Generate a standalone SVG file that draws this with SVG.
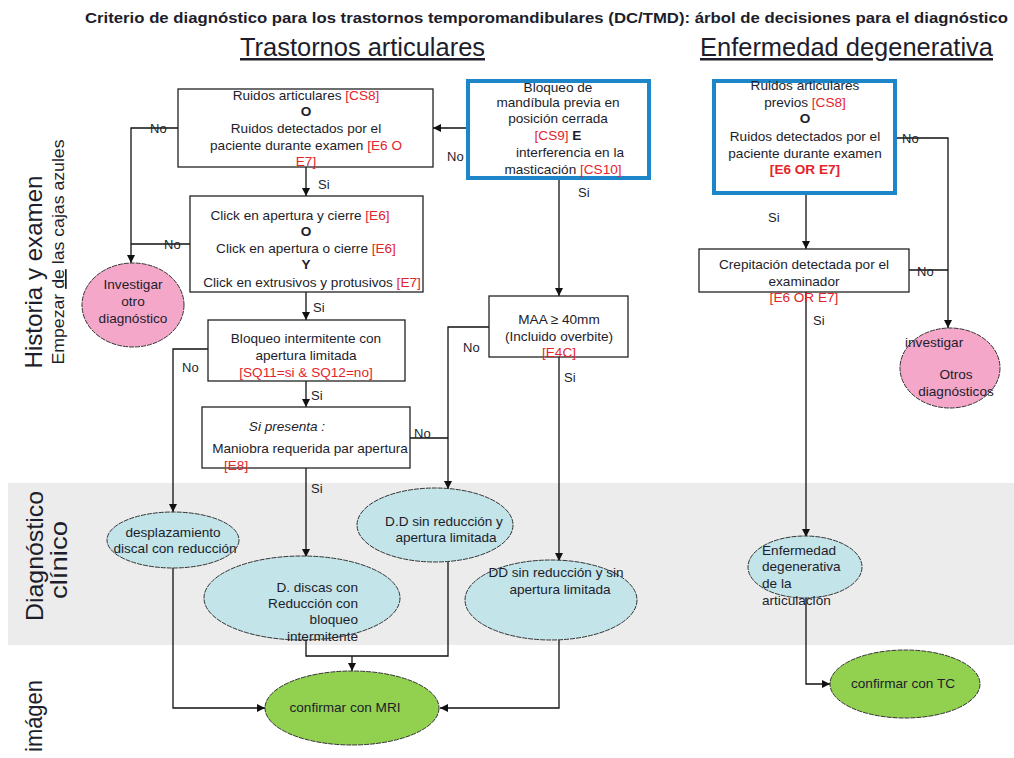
<svg xmlns="http://www.w3.org/2000/svg" width="1014" height="758" viewBox="0 0 1014 758">
<defs>
<marker id="ah" viewBox="0 0 10 10" refX="10" refY="5" markerWidth="8" markerHeight="8" markerUnits="userSpaceOnUse" orient="auto"><path d="M0,0 L10,5 L0,10 z" fill="#111"/></marker>
<style>
text{font-family:"Liberation Sans",Arial,sans-serif;fill:#1d1d2b;font-size:13.6px}
.c{text-anchor:middle}
.r{fill:#e3242b}
.b{font-weight:bold}
.box{fill:#fff;stroke:#222;stroke-width:1.3}
.blue{fill:#fff;stroke:#1c86c8;stroke-width:4}
.lb{fill:#c3e4e9;stroke:#333;stroke-width:1;stroke-dasharray:5 1}
.pk{fill:#f4a7c9;stroke:#333;stroke-width:1;stroke-dasharray:5 1}
.gr{fill:#92d050;stroke:#333;stroke-width:1;stroke-dasharray:5 1}
.ln{fill:none;stroke:#111;stroke-width:1.3}
.lab{font-size:13px}
.big{font-size:24px}
.hd{font-size:25px;text-decoration:underline}
</style>
</defs>
<rect width="1014" height="758" fill="#fff"/>
<rect x="8" y="483" width="1006" height="162" fill="#ececec"/>

<g id="titles">
<text x="85" y="23" class="b" style="font-size:15px;font-family:'Liberation Sans Narrow','Liberation Sans',sans-serif" textLength="923" lengthAdjust="spacingAndGlyphs">Criterio de diagnóstico para los trastornos temporomandibulares (DC/TMD): árbol de decisiones para el diagnóstico</text>
<text x="240" y="56" class="hd" textLength="245" lengthAdjust="spacingAndGlyphs">Trastornos articulares</text>
<text x="700" y="56" class="hd" textLength="293" lengthAdjust="spacingAndGlyphs">Enfermedad degenerativa</text>
</g>

<g id="side-labels">
<text transform="translate(42,272) rotate(-90)" class="c big" textLength="193" lengthAdjust="spacingAndGlyphs">Historia y examen</text>
<text transform="translate(64,252) rotate(-90)" class="c" style="font-size:17px" textLength="225" lengthAdjust="spacingAndGlyphs">Empezar <tspan text-decoration="underline">de</tspan> las cajas azules</text>
<text transform="translate(43,556) rotate(-90)" class="c big" textLength="130" lengthAdjust="spacingAndGlyphs">Diagnóstico</text>
<text transform="translate(67,560) rotate(-90)" class="c big" textLength="78" lengthAdjust="spacingAndGlyphs">clínico</text>
<text transform="translate(42,716) rotate(-90)" class="c big" textLength="72" lengthAdjust="spacingAndGlyphs">imágen</text>
</g>

<g id="connectors">
<path class="ln" d="M468,128 H433" marker-end="url(#ah)"/>
<path class="ln" d="M178,128 H131 V263" marker-end="url(#ah)"/>
<path class="ln" d="M190,244 H131"/>
<path class="ln" d="M306,167 V196" marker-end="url(#ah)"/>
<path class="ln" d="M306,292 V320" marker-end="url(#ah)"/>
<path class="ln" d="M208,349 H173 V512" marker-end="url(#ah)"/>
<path class="ln" d="M306,381 V407" marker-end="url(#ah)"/>
<path class="ln" d="M306,468 V557" marker-end="url(#ah)"/>
<path class="ln" d="M410,438 H448"/>
<path class="ln" d="M489,327 H448 V489" marker-end="url(#ah)"/>
<path class="ln" d="M559,178 V296" marker-end="url(#ah)"/>
<path class="ln" d="M559,357 V561" marker-end="url(#ah)"/>
<path class="ln" d="M173,568 V708 H265" marker-end="url(#ah)"/>
<path class="ln" d="M306,640 V656 H448 V562"/>
<path class="ln" d="M352,656 V671" marker-end="url(#ah)"/>
<path class="ln" d="M559,640 V708 H440" marker-end="url(#ah)"/>
<path class="ln" d="M895,138 H948 V328" marker-end="url(#ah)"/>
<path class="ln" d="M909,270 H948"/>
<path class="ln" d="M806,193 V249" marker-end="url(#ah)"/>
<path class="ln" d="M806,292 V537" marker-end="url(#ah)"/>
<path class="ln" d="M806,598 V684 H830" marker-end="url(#ah)"/>
<text x="150" y="133" class="lab">No</text>
<text x="447" y="161" class="lab">No</text>
<text x="318" y="189" class="lab">Si</text>
<text x="578" y="197" class="lab">Si</text>
<text x="164" y="249" class="lab">No</text>
<text x="313" y="312" class="lab">Si</text>
<text x="182" y="372" class="lab">No</text>
<text x="311" y="400" class="lab">Si</text>
<text x="414" y="438" class="lab">No</text>
<text x="311" y="493" class="lab">Si</text>
<text x="463" y="352" class="lab">No</text>
<text x="564" y="382" class="lab">Si</text>
<text x="902" y="143" class="lab">No</text>
<text x="768" y="222" class="lab">Si</text>
<text x="917" y="276" class="lab">No</text>
<text x="813" y="325" class="lab">Si</text>
</g>

<g id="n-ruidos">
<rect class="box" x="178" y="89" width="255" height="78"/>
<text x="306" y="100" class="c">Ruidos articulares <tspan class="r">[CS8]</tspan></text>
<text x="306" y="116" class="c b">O</text>
<text x="306" y="133" class="c">Ruidos detectados por el</text>
<text x="306" y="150" class="c">paciente durante examen <tspan class="r">[E6 O</tspan></text>
<text x="306" y="166" class="c r">E7]</text>
</g>

<g id="n-bloqueo-mandibula">
<rect class="blue" x="468" y="81" width="181" height="97"/>
<text x="558" y="92" class="c">Bloqueo de</text>
<text x="558" y="107" class="c">mandíbula previa en</text>
<text x="558" y="123" class="c">posición cerrada</text>
<text x="558" y="140" class="c"><tspan class="r">[CS9]</tspan> <tspan class="b">E</tspan></text>
<text x="570" y="157" class="c">interferencia en la</text>
<text x="563" y="174" class="c">masticación  <tspan class="r">[CS10]</tspan></text>
</g>

<g id="n-click">
<rect class="box" x="190" y="196" width="233" height="96"/>
<text x="300" y="220" class="c">Click en apertura y cierre <tspan class="r">[E6]</tspan></text>
<text x="306" y="236" class="c b">O</text>
<text x="306" y="253" class="c">Click en apertura o cierre <tspan class="r">[E6]</tspan></text>
<text x="306" y="269" class="c b">Y</text>
<text x="312" y="287" class="c">Click en extrusivos y protusivos <tspan class="r">[E7]</tspan></text>
</g>

<g id="n-intermitente">
<rect class="box" x="208" y="320" width="197" height="61"/>
<text x="306" y="343" class="c">Bloqueo intermitente con</text>
<text x="306" y="360" class="c">apertura limitada</text>
<text x="306" y="377" class="c r">[SQ11=si &amp; SQ12=no]</text>
</g>

<g id="n-presenta">
<rect class="box" x="202" y="407" width="208" height="61"/>
<text x="287" y="431" class="c" font-style="italic">Si presenta :</text>
<text x="310" y="453" class="c">Maniobra requerida par apertura</text>
<text x="224" y="470" class="r">[E8]</text>
</g>

<g id="n-maa">
<rect class="box" x="489" y="296" width="139" height="61"/>
<text x="559" y="324" class="c">MAA ≥ 40mm</text>
<text x="559" y="341" class="c">(Incluido overbite)</text>
<text x="559" y="357" class="c r">[E4C]</text>
</g>

<g id="n-investigar1">
<ellipse class="pk" cx="133" cy="305" rx="51" ry="42"/>
<text x="133" y="289" class="c">Investigar</text>
<text x="133" y="306" class="c">otro</text>
<text x="133" y="323" class="c">diagnóstico</text>
</g>

<g id="n-desplazamiento">
<ellipse class="lb" cx="173" cy="540" rx="66" ry="28"/>
<text x="173" y="537" class="c">desplazamiento</text>
<text x="175" y="553" class="c">discal con reducción</text>
</g>

<g id="n-discas">
<ellipse class="lb" cx="302" cy="598" rx="98" ry="42"/>
<text x="358" y="592" text-anchor="end">D. discas con</text>
<text x="358" y="608" text-anchor="end">Reducción con</text>
<text x="358" y="624" text-anchor="end">bloqueo</text>
<text x="358" y="641" text-anchor="end">intermitente</text>
</g>

<g id="n-dd-limitada">
<ellipse class="lb" cx="435" cy="525" rx="78" ry="37"/>
<text x="444" y="526" class="c">D.D sin reducción y</text>
<text x="446" y="542" class="c">apertura limitada</text>
</g>

<g id="n-dd-sin">
<ellipse class="lb" cx="551" cy="600" rx="86" ry="40"/>
<text x="556" y="577" class="c">DD sin reducción y sin</text>
<text x="560" y="594" class="c">apertura limitada</text>
</g>

<g id="n-mri">
<ellipse class="gr" cx="352" cy="708" rx="87" ry="37"/>
<text x="345" y="712" class="c">confirmar con MRI</text>
</g>

<g id="n-ruidos-previos">
<rect class="blue" x="714" y="81" width="181" height="112"/>
<text x="805" y="90" class="c">Ruidos articulares</text>
<text x="805" y="107" class="c">previos <tspan class="r">[CS8]</tspan></text>
<text x="805" y="123" class="c b">O</text>
<text x="805" y="141" class="c">Ruidos detectados por el</text>
<text x="805" y="158" class="c">paciente durante examen</text>
<text x="805" y="174" class="c r b">[E6 OR E7]</text>
</g>

<g id="n-crepitacion">
<rect class="box" x="699" y="249" width="210" height="43"/>
<text x="804" y="269" class="c">Crepitación detectada por el</text>
<text x="804" y="286" class="c">examinador</text>
<text x="804" y="302" class="c r">[E6 OR E7]</text>
</g>

<g id="n-investigar2">
<ellipse class="pk" cx="950" cy="368" rx="50" ry="40"/>
<text x="905" y="347">investigar</text>
<text x="956" y="379" class="c">Otros</text>
<text x="956" y="396" class="c">diagnósticos</text>
</g>

<g id="n-enfermedad">
<ellipse class="lb" cx="805" cy="567" rx="57" ry="31"/>
<text x="762" y="555">Enfermedad</text>
<text x="762" y="571">degenerativa</text>
<text x="762" y="588">de la</text>
<text x="762" y="605">articulación</text>
</g>

<g id="n-tc">
<ellipse class="gr" cx="905" cy="684" rx="75" ry="34"/>
<text x="903" y="688" class="c">confirmar con TC</text>
</g>
</svg>
